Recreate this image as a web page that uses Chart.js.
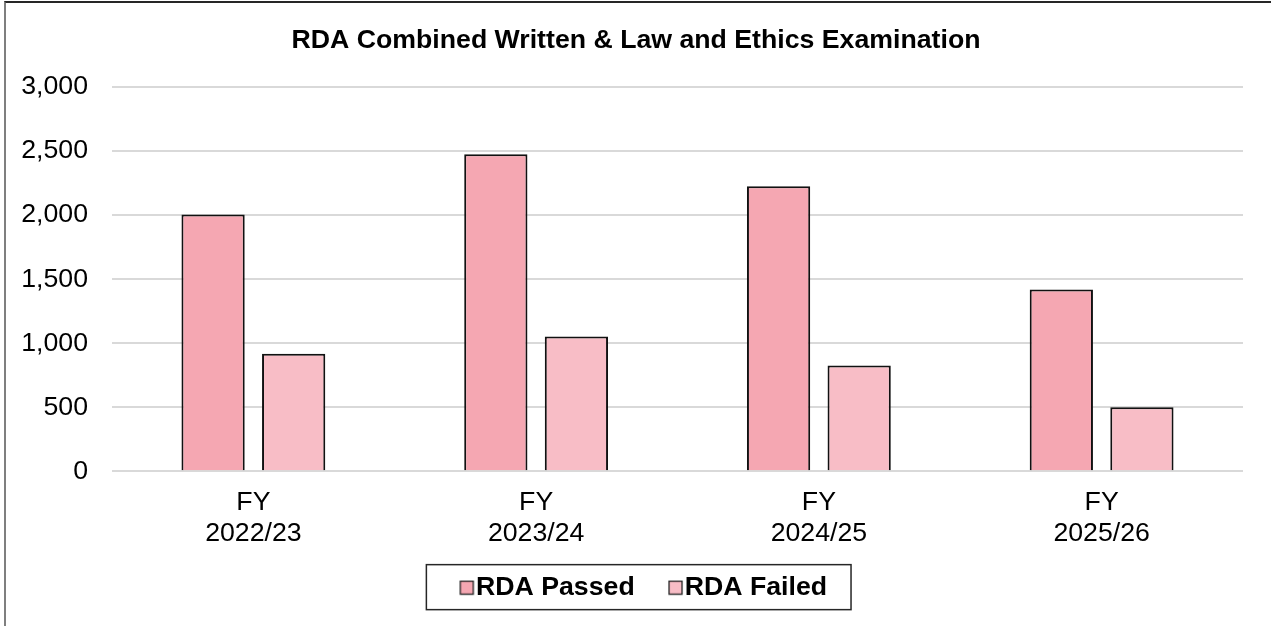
<!DOCTYPE html>
<html>
<head>
<meta charset="utf-8">
<script src="https://cdn.jsdelivr.net/npm/chart.js@4"></script>
<style>
  html, body { margin: 0; padding: 0; background: #fff; overflow: hidden; }
  #frame {
    position: absolute; left: 4px; top: 1px;
    border-top: 2px solid #262626; border-left: 2px solid #7f7f7f;
  }
  #frame canvas { display: block; }
</style>
</head>
<body>
<div id="frame"><canvas id="examChart" width="1265" height="640"></canvas></div>
<script>
let categories = [["FY", "2022/23"], ["FY", "2023/24"], ["FY", "2024/25"], ["FY", "2025/26"]]
let passed = [2005, 2475, 2225, 1420]
let failed = [917, 1052, 826, 500]
let seriesNames = ["RDA Passed", "RDA Failed"]
let seriesColors = ["#F5A7B2", "#F8BDC6"]

let fontFamily = "'Liberation Sans', Arial, sans-serif"
Chart.defaults.color = "#000"
Chart.defaults.font.family = fontFamily

// legend marker: square sits at the right of a wider image so the text is close
let makeMarker = function(color) {
	let c = document.createElement("canvas")
	c.width = 60
	c.height = 16
	let g = c.getContext("2d")
	g.fillStyle = color
	g.fillRect(42, 1.5, 13, 13)
	g.strokeStyle = "#222"
	g.lineWidth = 1.3
	g.strokeRect(42, 1.5, 13, 13)
	return c
}
let markers = seriesColors.map(makeMarker)

// framed box round the legend + small title nudge
let legendFrame = {
	id: "legendFrame",
	afterLayout(chart) {
		chart.titleBlock.left += 11
	},
	afterDraw(chart) {
		let boxes = chart.legend.legendHitBoxes
		if (!boxes || !boxes.length) return
		let first = boxes[0]
		let last = boxes[boxes.length - 1]
		let mid = first.top + first.height / 2
		let left = first.left - 7.6
		let right = last.left + last.width + 24
		let ctx = chart.ctx
		ctx.save()
		ctx.strokeStyle = "#262626"
		ctx.lineWidth = 1.5
		ctx.strokeRect(left, mid - 23, right - left, 45)
		ctx.restore()
	}
}

const ctx = document.getElementById("examChart").getContext("2d")

let examChart = new Chart(ctx, {
	type: "bar",
	data: {
		labels: categories,
		datasets: [
			{
				label: seriesNames[0],
				data: passed,
				backgroundColor: seriesColors[0],
				borderColor: "#111",
				borderWidth: 2
			},
			{
				label: seriesNames[1],
				data: failed,
				backgroundColor: seriesColors[1],
				borderColor: "#111",
				borderWidth: 2
			}
		]
	},
	options: {
		responsive: false,
		animation: false,
		categoryPercentage: 0.57,
		barPercentage: 0.785,
		layout: {
			padding: { left: 12, right: 28, top: 0, bottom: 32 }
		},
		scales: {
			x: {
				grid: { display: false },
				border: { display: false },
				ticks: {
					font: { size: 26.7, lineHeight: 1.16 },
					padding: 8,
					maxRotation: 0,
					autoSkip: false
				},
				afterFit: function(scale) { scale.height = 95 }
			},
			y: {
				min: 0,
				max: 3000,
				border: { display: false },
				grid: { color: "#d9d9d9", lineWidth: 2, drawTicks: false },
				ticks: {
					stepSize: 500,
					padding: 24,
					font: { size: 26.7 }
				},
				afterFit: function(scale) { scale.width = 94 }
			}
		},
		plugins: {
			title: {
				display: true,
				text: "RDA Combined Written & Law and Ethics Examination",
				font: { size: 26.7, weight: "bold" },
				color: "#000",
				padding: { top: 22, bottom: 30 }
			},
			legend: {
				position: "bottom",
				labels: {
					usePointStyle: true,
					pointStyleWidth: 28.65,
					padding: 8,
					font: { size: 26.7, weight: "bold" },
					color: "#000",
					generateLabels: function(chart) {
						return chart.data.datasets.map(function(ds, i) {
							return {
								text: ds.label,
								pointStyle: markers[i],
								fillStyle: ds.backgroundColor,
								strokeStyle: "#222",
								lineWidth: 0,
								hidden: false,
								datasetIndex: i
							}
						})
					}
				}
			},
			tooltip: { enabled: false }
		}
	},
	plugins: [legendFrame]
});
</script>
</body>
</html>
